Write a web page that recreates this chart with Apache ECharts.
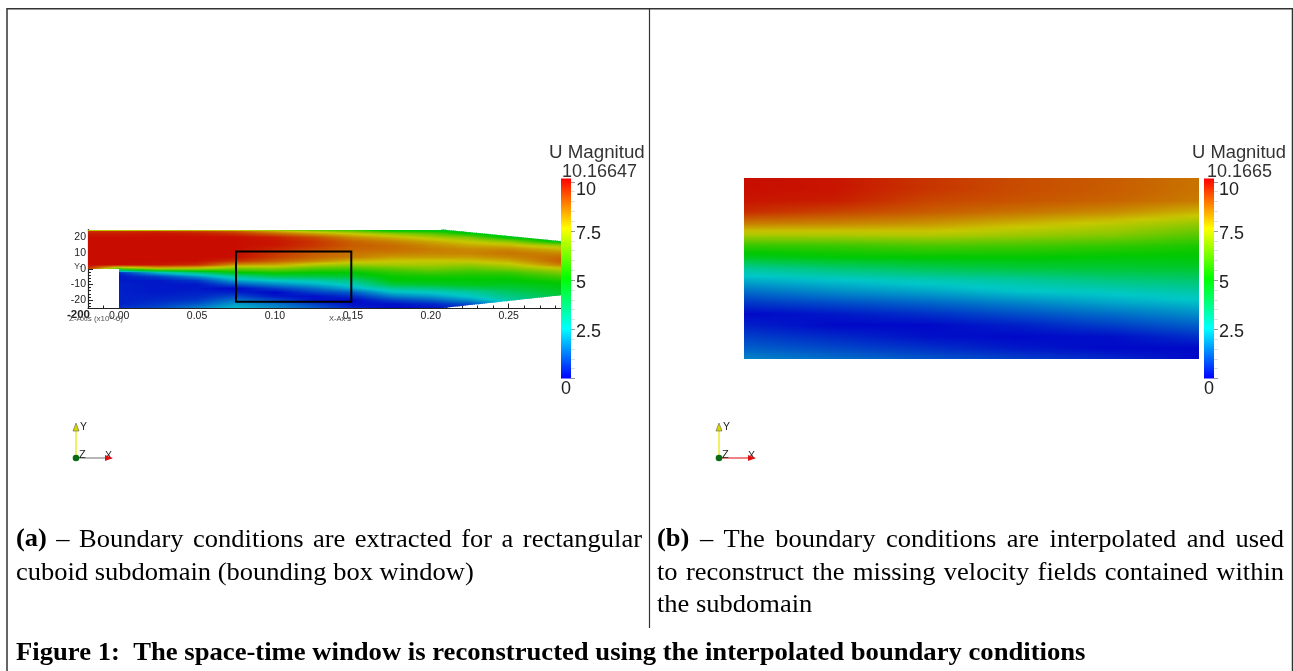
<!DOCTYPE html>
<html><head><meta charset="utf-8">
<style>html,body{margin:0;padding:0;background:#fff}#c{width:1293px;height:671px}</style>
<script src="https://cdn.jsdelivr.net/npm/echarts@6/dist/echarts.min.js"></script>
</head><body><div id="c"></div>
<script>
// ---------- values ----------
const rowsA = [25,24,22.5,20,17.5,15,12.5,10,7.5,5,2.5,0,-2.5,-5,-7.5,-10,-12.5,-15,-17.5,-20,-22.5,-25];
const stationsA = [-0.02,0,0.025,0.05,0.075,0.10,0.125,0.15,0.175,0.20,0.225,0.25,0.284];
const colM020 = [4,9.5,9.8,10,10,10,10,10,10,10,10,9.6,9,9,9,9,9,9,9,9,9,9];
const col000 = [4,9.5,9.8,10,10,10,10,10,10,10,10,6,.5,.3,.3,.4,.4,.4,.4,.4,.4,.6];
const col025 = [4.5,9.5,9.9,10,10,10,10,10,10,10,9.9,7.4,2.4,.8,.3,.3,.3,.3,.4,.5,.7,.9];
const col050 = [5,9.3,9.8,10,10,10,10,10,10,10,9.6,7.2,3.6,1.8,.7,.3,.3,.4,.5,.7,1.1,1.6];
const col075 = [5,9,9.5,10,10,10,10,10,10,9.6,8.3,6.5,5,3.1,2.1,1.1,.1,.4,.9,1.5,2,2.4];
const col100 = [5.5,8,8.8,9.8,9.9,9.9,9.7,9.5,9.4,9,8.1,6.7,5.3,4,2.6,1.7,.8,.1,.3,.9,1.5,1.8];
const col125 = [5.5,7,8.1,9.2,9.5,9.5,9.3,9,8.9,8.5,7.4,6.1,5.1,4.2,2.9,2.2,1.4,.8,.2,.2,.8,1.2];
const col150 = [5.5,6.3,7.5,8.4,8.9,9,8.9,8.7,8.6,7.9,7.0,5.9,5.1,4.5,3.5,2.8,2.2,1.2,.6,.1,.2,.4];
const col175 = [4.5,5.2,6.8,7.9,8.5,8.8,8.8,8.6,8.2,7.7,7.2,6.3,5.6,5.2,5,4.3,3.2,2.4,1.6,.8,.2,.1];
const col200 = [4.5,5,6.2,7.3,8,8.4,8.6,8.5,8.2,7.6,7.2,6.6,5.9,5.3,5,4.6,3.5,2.6,2,1.2,.5,.2];
const col225 = [4.5,4.6,5,6.6,7.5,8,8.4,8.5,8.2,7.7,7,6.3,5.7,5.3,5,4.8,4,3,2.6,1.9,1,.5];
const col250 = [4,4.1,4.3,4.8,6.8,7.8,8.4,8.7,8.5,8,7.4,6.7,5.8,5.3,5,4.7,4.3,3.8,3.4,3,2.2,2];
const col284 = [4,4,4,4,4.5,6.9,7.8,8.4,8.8,9,8.6,7.5,6.7,6,5.4,5,4.8,4.6,4.3,4,4,4];
const columnsA = [colM020,col000,col025,col050,col075,col100,col125,col150,col175,col200,col225,col250,col284];
const outlineX = [-0.02,-0.0000001,0,0.207,0.284];
const outlineTop = [25,25,25,25,17.5];
const outlineBottom = [0,0,-25,-25,-16.8];

const rowsB = [11,9,7,5,3,1,-1,-3,-5,-7,-9,-11,-13,-15,-17,-19,-21];
const stationsB = [0.075,0.09,0.105,0.12,0.135,0.149];
const colB0 = [10,10,9.9,9.6,8.6,7.3,5.7,4.7,3.1,2.2,1.4,.7,.1,.4,.8,1.2,1.7];
const colB1 = [9.9,9.9,9.8,9.3,8.5,7.3,5.8,5.0,3.6,2.5,1.8,1.0,.3,.1,.5,.9,1.4];
const colB2 = [9.5,9.5,9.3,9.0,8.3,7.4,6.0,5.1,4.0,2.8,2.1,1.3,.6,.1,.2,.6,1.1];
const colB3 = [9.2,9.2,9.1,8.7,7.9,7.1,5.9,5.1,4.3,3.1,2.5,1.7,1.0,.4,.1,.3,.8];
const colB4 = [9,9,8.9,8.4,7.5,6.8,5.7,5.0,4.4,3.5,2.7,2.1,1.4,.8,.2,.1,.5];
const colB5 = [8.7,8.7,8.6,7.9,7.0,6.2,5.4,5.0,4.5,3.7,3.0,2.4,1.8,1.2,.6,.1,.1];
const columnsB = [colB0,colB1,colB2,colB3,colB4,colB5];
const windowBox = [[0.075,-21,0.149,11]];

const xTicks = [0,0.05,0.10,0.15,0.20,0.25];
const xMinor = [-0.02,-0.01,0.01,0.02,0.03,0.04,0.06,0.07,0.08,0.09,0.11,0.12,0.13,0.14,0.16,0.17,0.18,0.19,0.21,0.22,0.23,0.24,0.26,0.27,0.28];
const yTicks = [-20,-10,0,10,20];
const yMinor = [-24,-22,-18,-16,-14,-12,-8,-6,-4,-2,2,4,6,8,12,14,16,18,22,24];
const barTicks = [0,2.5,5,7.5,10];
const barLabels = [2.5,5,7.5,10];
const barMinor = [0.5,1,1.5,2,3,3.5,4,4.5,5.5,6,6.5,7,8,8.5,9,9.5];
const vmax = 10.1665;

// ---------- colour ramp ----------
const ramp = [[0,0,255],[0,255,255],[0,255,0],[255,255,0],[255,0,0]];
function col(v,dim){
  const t=Math.max(0,Math.min(1,v/vmax))*4, i=Math.min(3,Math.floor(t)), f=t-i;
  const c=ramp[i].map((a,k)=>Math.round((a+(ramp[i+1][k]-a)*f)*dim));
  return 'rgb('+c.join(',')+')';
}
function edge(x,xs,ys){
  for(let i=0;i<xs.length-1;i++) if(x<=xs[i+1]){const t=(x-xs[i])/(xs[i+1]-xs[i]);return ys[i]+(ys[i+1]-ys[i])*t;}
  return ys[ys.length-1];
}
// Gouraud-like shading between the read stations, the way the source renderer shades its mesh
function shade(stations,rows,cols,top,bottom){
  return function(p,api){
    const k=p.dataIndex;
    const x0=Math.round(api.coord([stations[k],0])[0]), x1=Math.round(api.coord([stations[k+1],0])[0]);
    const yT=api.coord([0,rows[0]])[1], yB=api.coord([0,rows[rows.length-1]])[1];
    const kids=[], STEP=2, n=rows.length-1, span=rows[0]-rows[n], eps=1e-6;
    const toData=q=>stations[k]+(stations[k+1]-stations[k])*((q-x0)/(x1-x0));
    for(let px=x0;px<x1;px+=STEP){
      const pe=Math.min(px+STEP,x1), t=Math.min(1,(px+STEP/2-x0)/(x1-x0)), stops=[];
      for(let r=0;r<n;r++) for(let s=0;s<3;s++){
        const fr=s/3;
        const a=cols[k][r]+(cols[k][r+1]-cols[k][r])*fr, b=cols[k+1][r]+(cols[k+1][r+1]-cols[k+1][r])*fr;
        const yv=rows[r]+(rows[r+1]-rows[r])*fr;
        stops.push({offset:(rows[0]-yv)/span,color:col(a+(b-a)*t,0.785)});
      }
      stops.push({offset:1,color:col(cols[k][n]+(cols[k+1][n]-cols[k][n])*t,0.785)});
      const dx0=toData(px)+eps, dx1=toData(pe)-eps;
      const pts=[api.coord([dx0,top(dx0)]),api.coord([dx1,top(dx1)]),api.coord([dx1,bottom(dx1)]),api.coord([dx0,bottom(dx0)])];
      pts[0][0]=px;pts[3][0]=px;
      const ov=pe<x1||k<stations.length-2?1:0;
      pts[1][0]=pe+ov;pts[2][0]=pe+ov;
      if(Math.abs(pts[0][1]-pts[1][1])<0.01){pts[0][1]=pts[1][1]=Math.round(pts[0][1]);}
      if(Math.abs(pts[2][1]-pts[3][1])<0.01){pts[2][1]=pts[3][1]=Math.round(pts[2][1]);}
      kids.push({type:'polygon',shape:{points:pts},style:{fill:{type:'linear',global:true,x:0,y:yT,x2:0,y2:yB,colorStops:stops}},silent:true});
    }
    return {type:'group',children:kids};
  };
}
function barItem(p,api){
  const a=api.coord([0,0]), b=api.coord([0,vmax]);
  const stops=[];
  for(let i=0;i<=4;i++) stops.push({offset:i/4,color:col((4-i)/4*vmax,1)});
  return {type:'rect',shape:{x:a[0],y:b[1],width:api.size([1,0])[0],height:a[1]-b[1]},
    style:{fill:{type:'linear',x:0,y:0,x2:0,y2:1,colorStops:stops}}};
}
function boxItem(p,api){
  const a=api.coord([api.value(0),api.value(3)]), b=api.coord([api.value(2),api.value(1)]);
  return {type:'rect',shape:{x:a[0],y:a[1],width:b[0]-a[0],height:b[1]-a[1]},style:{fill:'none',stroke:'#000',lineWidth:2}};
}

// ---------- text helpers ----------
const SERIF='"Liberation Serif"', SANS='"Liberation Sans"';
const FS=25, SX=1.06;
const mctx=document.createElement('canvas').getContext('2d');
function width(t,w){mctx.font=(w||'normal')+' '+FS+'px '+SERIF;return mctx.measureText(t).width*SX;}
function word(t,x,y,w,sx){return {type:'text',x:x,y:y,scaleX:sx||SX,originX:0,originY:0,silent:true,
  style:{text:t,x:0,y:0,fill:'#000',font:(w||'normal')+' '+FS+'px '+SERIF,textAlign:'left',textVerticalAlign:'middle'}};}
function justified(line,x0,x1,y,boldFirst){
  const ws=line.split(' ');
  const ww=ws.map((t,i)=>width(t,i===0&&boldFirst?'bold':'normal'));
  const gap=(x1-x0-ww.reduce((a,b)=>a+b,0))/(ws.length-1);
  let x=x0;const out=[];
  ws.forEach((t,i)=>{out.push(word(t,x,y,i===0&&boldFirst?'bold':'normal'));x+=ww[i]+gap;});
  return out;
}
function label(t,x,y,size,opt){opt=opt||{};return {type:'text',x:x,y:y,silent:true,z:20,scaleX:opt.sx||1,originX:0,originY:0,
  style:{text:t,x:0,y:0,fill:opt.color||'#222',font:(opt.weight||'normal')+' '+size+'px '+SANS,textAlign:opt.align||'left',textVerticalAlign:'middle'}};}
function line(x1,y1,x2,y2,c,w){return {type:'line',silent:true,z:20,shape:{x1,y1,x2,y2},style:{stroke:c,lineWidth:w||1}};}
function triad(ox,oy,xc){
  return [
    line(ox,oy,ox,oy-30,'#e8e800',1.2),
    {type:'polygon',silent:true,z:21,shape:{points:[[ox-3,oy-27],[ox+3,oy-27],[ox,oy-35]]},style:{fill:'#d8d800',stroke:'#444',lineWidth:.5}},
    line(ox,oy,ox+31,oy,xc,1.2),
    {type:'polygon',silent:true,z:21,shape:{points:[[ox+29,oy-3],[ox+29,oy+3],[ox+37,oy]]},style:{fill:'#e01010'}},
    {type:'circle',silent:true,z:22,shape:{cx:ox,cy:oy,r:3.3},style:{fill:'#0a6a14'}},
    label('Y',ox+4,oy-31,10.5),label('Z',ox+3,oy-3,11),label('X',ox+29,oy-2,10.5)
  ];
}

const graphics=[
  {type:'rect',silent:true,z:30,shape:{x:7,y:8.75,width:1285.5,height:670},style:{fill:'none',stroke:'#333',lineWidth:1.5}},
  line(649.5,9,649.5,628,'#333',1.2),
  label('U Magnitud',549,153,17.5,{sx:1.07,color:'#333'}),label('10.16647',562,172.5,18,{color:'#333'}),
  label('U Magnitud',1192,153,17.5,{sx:1.05,color:'#333'}),label('10.1665',1207,172.5,18,{color:'#333'}),
  label('0',561,389,18),label('0',1204,389,18),
  label('-200',67,314.5,11.5,{weight:'bold'}),
  label('Z-Axis (x10^-6)',69,319,8,{color:'#555'}),
  label('X-Ax s',329,319,7.5,{color:'#444'}),
  label('Y-',74,267,9,{color:'#444'}),
  ...triad(76,458,'#888'),...triad(719,458,'#e03030'),
  ...justified('(a) – Boundary conditions are extracted for a rectangular',16,642,540,true),
  word('cuboid subdomain (bounding box window)',16,573),
  ...justified('(b) – The boundary conditions are interpolated and used',657,1284,540,true),
  ...justified('to reconstruct the missing velocity fields contained within',657,1284,573,false),
  word('the subdomain',657,605),
  word('Figure 1:  The space-time window is reconstructed using the interpolated boundary conditions',16,654,'bold',1.066)
];

const AXC='#222';
function barY(g){return [{
  gridIndex:g,type:'value',min:0,max:vmax,position:'right',offset:0,axisLine:{show:false,onZero:false},splitLine:{show:false},
  axisTick:{show:true,length:4,customValues:barTicks,lineStyle:{color:'#999'}},
  axisLabel:{show:true,customValues:barLabels,margin:5,color:'#222',fontSize:18,fontFamily:'Liberation Sans',align:'left',
    formatter:v=>'{'+(v===10?'t':'m')+'|'+v+'}',
    rich:{t:{padding:[16,0,0,0],fontSize:18},m:{padding:[6,0,0,0],fontSize:18}}}
},{
  gridIndex:g,type:'value',min:0,max:vmax,position:'right',offset:0,axisLine:{show:false,onZero:false},splitLine:{show:false},
  axisTick:{show:true,length:4,customValues:barMinor,lineStyle:{color:'#ddd'}},axisLabel:{show:false}
}];}
function barX(g){return {gridIndex:g,type:'value',min:0,max:1,show:false};}
const hiddenB=[{gridIndex:1,type:'value',min:0.075,max:0.149,show:false},{gridIndex:1,type:'value',min:-21,max:11,show:false}];

const option={
  animation:false,backgroundColor:'#fff',
  grid:[
    {left:88,top:229.5,width:473,height:78.5},
    {left:743.5,top:178,width:455.5,height:181.3},
    {left:561,top:178.5,width:10,height:200},
    {left:1204,top:178.5,width:10,height:200}
  ],
  xAxis:[
    {gridIndex:0,type:'value',position:'bottom',min:-0.02,max:0.2836,axisLine:{show:true,onZero:false,lineStyle:{color:AXC,width:1.2}},splitLine:{show:false},
     axisTick:{show:true,inside:true,length:4.5,customValues:xTicks,lineStyle:{color:AXC}},
     axisLabel:{show:true,customValues:xTicks,margin:3,color:'#222',fontSize:10.5,fontFamily:'Liberation Sans',formatter:v=>v.toFixed(2)}},
    {gridIndex:0,type:'value',position:'bottom',offset:0,min:-0.02,max:0.2836,axisLine:{show:false,onZero:false},splitLine:{show:false},
     axisTick:{show:true,inside:true,length:2.5,customValues:xMinor,lineStyle:{color:AXC}},axisLabel:{show:false}},
    hiddenB[0],barX(2),barX(3)
  ],
  yAxis:[
    {gridIndex:0,type:'value',position:'left',min:-25,max:25,axisLine:{show:true,onZero:false,lineStyle:{color:AXC,width:1.2}},splitLine:{show:false},
     axisTick:{show:true,inside:true,length:5,customValues:yTicks,lineStyle:{color:AXC}},
     axisLabel:{show:true,customValues:yTicks,margin:2,color:'#222',fontSize:10.5,fontFamily:'Liberation Sans',padding:[3,0,0,0]}},
    {gridIndex:0,type:'value',position:'left',offset:0,min:-25,max:25,axisLine:{show:false,onZero:false},splitLine:{show:false},
     axisTick:{show:true,inside:true,length:3,customValues:yMinor,lineStyle:{color:AXC}},axisLabel:{show:false}},
    hiddenB[1],...barY(2),...barY(3)
  ],
  series:[
    {type:'custom',name:'U magnitude (a)',xAxisIndex:0,yAxisIndex:0,clip:false,silent:true,z:1,
     data:stationsA.slice(0,-1).map((x,i)=>[x,stationsA[i+1]]),encode:{x:[0,1]},
     renderItem:shade(stationsA,rowsA,columnsA,x=>edge(x,outlineX,outlineTop),x=>edge(x,outlineX,outlineBottom))},
    {type:'custom',name:'Bounding box',xAxisIndex:0,yAxisIndex:0,clip:false,silent:true,z:5,data:windowBox,renderItem:boxItem},
    {type:'custom',name:'U magnitude (b)',xAxisIndex:2,yAxisIndex:2,clip:false,silent:true,z:1,
     data:stationsB.slice(0,-1).map((x,i)=>[x,stationsB[i+1]]),encode:{x:[0,1]},
     renderItem:shade(stationsB,rowsB,columnsB,()=>11,()=>-21)},
    {type:'custom',name:'Colour bar (a)',xAxisIndex:3,yAxisIndex:3,silent:true,z:1,data:[[0,0]],renderItem:barItem},
    {type:'custom',name:'Colour bar (b)',xAxisIndex:4,yAxisIndex:5,silent:true,z:1,data:[[0,0]],renderItem:barItem}
  ],
  graphic:{elements:graphics}
};
const chart=echarts.init(document.getElementById('c'),null,{renderer:'canvas'});
chart.setOption(option);
</script></body></html>
